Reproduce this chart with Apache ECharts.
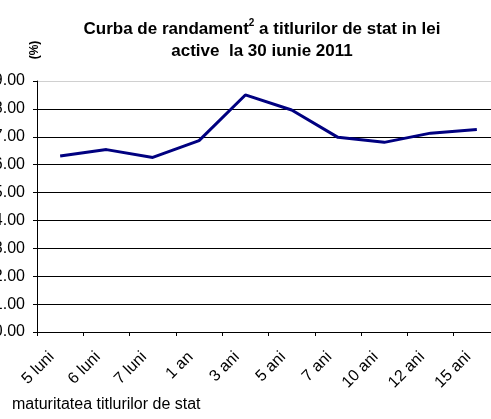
<!DOCTYPE html>
<html>
<head>
<meta charset="utf-8">
<style>
  html, body { margin: 0; padding: 0; background: #fff; }
  #chart { width: 491px; height: 419px; }
</style>
<script src="https://cdn.jsdelivr.net/npm/echarts@6/dist/echarts.min.js"></script>
</head>
<body>
<div id="chart"></div>
<script>
// maturities and yields (%)
var maturitati = ['5 luni', '6 luni', '7 luni', '1 an', '3 ani', '5 ani', '7 ani', '10 ani', '12 ani', '15 ani'];
var randamente = [6.31, 6.54, 6.26, 6.86, 8.50, 7.96, 6.98, 6.80, 7.13, 7.26];

var font = '"Liberation Sans", Arial, sans-serif';
var chart = echarts.init(document.getElementById('chart'));

var option = {
  animation: false,
  backgroundColor: '#fff',
  title: {
    text: '{t|Curba de randament}{s|2}{t| a titlurilor de stat in lei}\n{t|active  la 30 iunie 2011}',
    left: 257,
    top: 13,
    textAlign: 'center',
    textStyle: {
      fontFamily: font,
      rich: {
        t: { fontSize: 17, fontWeight: 'bold', color: '#000', fontFamily: font, lineHeight: 22 },
        s: { fontSize: 10, fontWeight: 'bold', color: '#000', fontFamily: font, verticalAlign: 'top', lineHeight: 22 }
      }
    }
  },
  grid: {
    left: 37,
    top: 81,
    right: -9,
    bottom: 87,
    outerBoundsMode: 'none',
    containLabel: false
  },
  xAxis: {
    type: 'category',
    data: maturitati,
    boundaryGap: true,
    axisLine: { lineStyle: { color: '#000', width: 1 } },
    axisTick: { show: true, length: 4, alignWithLabel: false, lineStyle: { color: '#000' } },
    axisLabel: {
      rotate: 45,
      interval: 0,
      margin: 14,
      padding: [0, 12, 0, 0],
      color: '#000',
      fontFamily: font,
      fontSize: 16
    }
  },
  yAxis: {
    type: 'value',
    min: 0,
    max: 9,
    interval: 1,
    axisLine: { show: true, lineStyle: { color: '#000', width: 1 } },
    axisTick: { show: true, length: 4, lineStyle: { color: '#000' } },
    axisLabel: {
      margin: 12,
      color: '#000',
      fontFamily: font,
      fontSize: 16,
      formatter: function (v) { return v.toFixed(2); }
    },
    splitLine: {
      show: true,
      lineStyle: {
        color: ['#000', '#000', '#000', '#000', '#000', '#000', '#000', '#000', '#000', '#d0d0d0'],
        width: 1
      }
    }
  },
  series: [{
    type: 'line',
    data: randamente,
    symbol: 'none',
    lineStyle: { color: '#000080', width: 3 },
    itemStyle: { color: '#000080' }
  }],
  graphic: [
    {
      type: 'text',
      x: 35,
      y: 50,
      rotation: Math.PI / 2,
      style: {
        text: '(%)',
        fontFamily: font,
        fontSize: 12,
        fontWeight: 'bold',
        fill: '#000',
        align: 'center',
        verticalAlign: 'middle'
      }
    },
    {
      type: 'text',
      x: 12,
      y: 405,
      style: {
        text: 'maturitatea titlurilor de stat',
        fontFamily: font,
        fontSize: 16,
        fill: '#000',
        align: 'left',
        verticalAlign: 'middle'
      }
    }
  ]
};

chart.setOption(option);
window.addEventListener('resize', function () {
  chart.resize();
});
</script>
</body>
</html>
